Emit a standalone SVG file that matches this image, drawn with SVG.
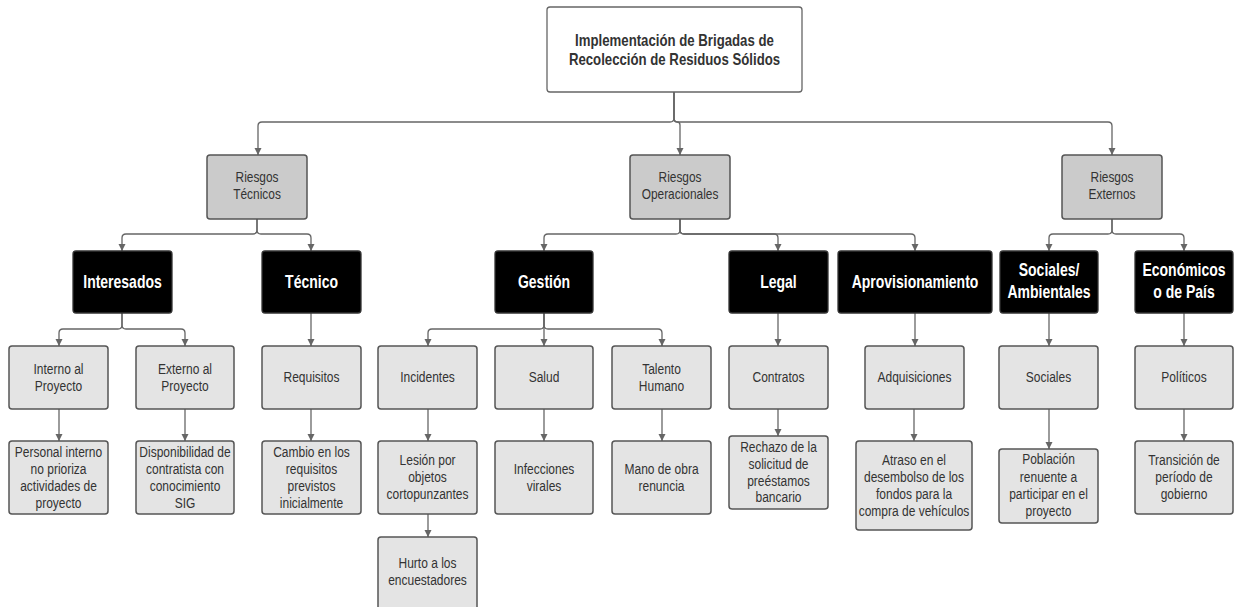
<svg xmlns="http://www.w3.org/2000/svg" width="1234" height="607" viewBox="0 0 1234 607">
  <defs>
    <marker id="arrow" markerUnits="userSpaceOnUse" markerWidth="8" markerHeight="8" refX="7" refY="3.5" orient="auto">
      <path d="M0,0 L7,3.5 L0,7 z" fill="#666"/>
    </marker>
    <style>
      .box-top { fill: #ffffff; stroke: #666; stroke-width: 1.3; }
      .box-cat { fill: #cbcbcb; stroke: #555; stroke-width: 1.5; }
      .box-area { fill: #000000; stroke: #333; stroke-width: 1.3; }
      .box-item { fill: #e4e4e4; stroke: #555; stroke-width: 1.5; }
      .edge { fill: none; stroke: #666; stroke-width: 1.3; marker-end: url(#arrow); }
      text { font-family: "Liberation Sans", Arial, sans-serif; text-anchor: middle;
             transform-box: fill-box; transform-origin: center; }
      .t-top { font-size: 16.5px; font-weight: bold; fill: #333; transform: scaleX(0.8); }
      .t-cat { font-size: 14px; fill: #333; transform: scaleX(0.85); }
      .t-area { font-size: 17.5px; font-weight: bold; fill: #fff; transform: scaleX(0.8); }
      .t-item { font-size: 15px; fill: #333; transform: scaleX(0.8); }
    </style>
  </defs>
  <rect width="1234" height="607" fill="#ffffff"/>

  <!-- connectors -->
  <g id="connectors">
    <path class="edge" d="M674,92 V118 Q674,122 670,122 H262 Q258,122 258,126 V155"/>
    <path class="edge" d="M674,92 V119 Q674,122 677,122 Q680,122 680,125 V155"/>
    <path class="edge" d="M674,92 V118 Q674,122 678,122 H1108 Q1112,122 1112,126 V155"/>

    <path class="edge" d="M257,219 V230 Q257,234 253,234 H126 Q122,234 122,238 V251"/>
    <path class="edge" d="M257,219 V230 Q257,234 261,234 H307 Q311,234 311,238 V251"/>

    <path class="edge" d="M680,219 V230 Q680,234 676,234 H548 Q544,234 544,238 V251"/>
    <path class="edge" d="M680,219 V230 Q680,234 684,234 H774 Q778,234 778,238 V251"/>
    <path class="edge" d="M680,219 V230 Q680,234 684,234 H911 Q915,234 915,238 V251"/>

    <path class="edge" d="M1112,219 V230 Q1112,234 1108,234 H1053 Q1049,234 1049,238 V251"/>
    <path class="edge" d="M1112,219 V230 Q1112,234 1116,234 H1180 Q1184,234 1184,238 V251"/>

    <path class="edge" d="M122,313 V325 Q122,329 118,329 H63 Q59,329 59,333 V346"/>
    <path class="edge" d="M122,313 V325 Q122,329 126,329 H181 Q185,329 185,333 V346"/>
    <path class="edge" d="M311,313 V346"/>
    <path class="edge" d="M544,313 V325 Q544,329 540,329 H432 Q428,329 428,333 V346"/>
    <path class="edge" d="M544,313 V346"/>
    <path class="edge" d="M544,313 V325 Q544,329 548,329 H658 Q662,329 662,333 V346"/>
    <path class="edge" d="M778,313 V346"/>
    <path class="edge" d="M915,313 V346"/>
    <path class="edge" d="M1049,313 V346"/>
    <path class="edge" d="M1184,313 V346"/>

    <path class="edge" d="M59,409 V441"/>
    <path class="edge" d="M185,409 V441"/>
    <path class="edge" d="M311,409 V441"/>
    <path class="edge" d="M428,409 V441"/>
    <path class="edge" d="M544,409 V441"/>
    <path class="edge" d="M662,409 V441"/>
    <path class="edge" d="M778,409 V436"/>
    <path class="edge" d="M914,409 V441"/>
    <path class="edge" d="M1049,409 V449"/>
    <path class="edge" d="M1184,409 V441"/>
    <path class="edge" d="M428,514 V537"/>
  </g>

  <!-- root -->
  <g id="root">
    <rect class="box-top" x="547" y="7" width="255" height="85" rx="3"/>
    <text class="t-top" x="674.5" y="46.5">Implementación de Brigadas de</text>
    <text class="t-top" x="674.5" y="65.5">Recolección de Residuos Sólidos</text>
  </g>

  <!-- risk categories -->
  <g id="riesgos-tecnicos">
    <rect class="box-cat" x="207" y="155" width="100" height="64" rx="3"/>
    <text class="t-cat" x="257" y="182">Riesgos</text>
    <text class="t-cat" x="257" y="199">Técnicos</text>
  </g>
  <g id="riesgos-operacionales">
    <rect class="box-cat" x="630" y="155" width="100" height="64" rx="3"/>
    <text class="t-cat" x="680" y="182">Riesgos</text>
    <text class="t-cat" x="680" y="199">Operacionales</text>
  </g>
  <g id="riesgos-externos">
    <rect class="box-cat" x="1062" y="155" width="100" height="64" rx="3"/>
    <text class="t-cat" x="1112" y="182">Riesgos</text>
    <text class="t-cat" x="1112" y="199">Externos</text>
  </g>

  <!-- risk areas -->
  <g id="interesados">
    <rect class="box-area" x="73" y="251" width="99" height="62" rx="3"/>
    <text class="t-area" x="122.5" y="288.5">Interesados</text>
  </g>
  <g id="tecnico">
    <rect class="box-area" x="262" y="251" width="99" height="62" rx="3"/>
    <text class="t-area" x="311.5" y="288.5">Técnico</text>
  </g>
  <g id="gestion">
    <rect class="box-area" x="495" y="251" width="98" height="62" rx="3"/>
    <text class="t-area" x="544" y="288.5">Gestión</text>
  </g>
  <g id="legal">
    <rect class="box-area" x="729" y="251" width="99" height="62" rx="3"/>
    <text class="t-area" x="778.5" y="288.5">Legal</text>
  </g>
  <g id="aprovisionamiento">
    <rect class="box-area" x="838" y="251" width="154" height="62" rx="3"/>
    <text class="t-area" x="915" y="288.5">Aprovisionamiento</text>
  </g>
  <g id="sociales-ambientales">
    <rect class="box-area" x="1000" y="251" width="98" height="62" rx="3"/>
    <text class="t-area" x="1049" y="276.5">Sociales/</text>
    <text class="t-area" x="1049" y="298.5">Ambientales</text>
  </g>
  <g id="economicos">
    <rect class="box-area" x="1135" y="251" width="98" height="62" rx="3"/>
    <text class="t-area" x="1184" y="276.5">Económicos</text>
    <text class="t-area" x="1184" y="298.5">o de País</text>
  </g>

  <!-- sub-areas -->
  <g id="interno">
    <rect class="box-item" x="9" y="346" width="99" height="63" rx="3"/>
    <text class="t-item" x="58.5" y="374">Interno al</text>
    <text class="t-item" x="58.5" y="391">Proyecto</text>
  </g>
  <g id="externo">
    <rect class="box-item" x="136" y="346" width="98" height="63" rx="3"/>
    <text class="t-item" x="185" y="374">Externo al</text>
    <text class="t-item" x="185" y="391">Proyecto</text>
  </g>
  <g id="requisitos">
    <rect class="box-item" x="262" y="346" width="99" height="63" rx="3"/>
    <text class="t-item" x="311.5" y="382">Requisitos</text>
  </g>
  <g id="incidentes">
    <rect class="box-item" x="378" y="346" width="99" height="63" rx="3"/>
    <text class="t-item" x="427.5" y="382">Incidentes</text>
  </g>
  <g id="salud">
    <rect class="box-item" x="495" y="346" width="98" height="63" rx="3"/>
    <text class="t-item" x="544" y="382">Salud</text>
  </g>
  <g id="talento">
    <rect class="box-item" x="612" y="346" width="99" height="63" rx="3"/>
    <text class="t-item" x="661.5" y="374">Talento</text>
    <text class="t-item" x="661.5" y="391">Humano</text>
  </g>
  <g id="contratos">
    <rect class="box-item" x="729" y="346" width="99" height="63" rx="3"/>
    <text class="t-item" x="778.5" y="382">Contratos</text>
  </g>
  <g id="adquisiciones">
    <rect class="box-item" x="865" y="346" width="99" height="63" rx="3"/>
    <text class="t-item" x="914.5" y="382">Adquisiciones</text>
  </g>
  <g id="sociales">
    <rect class="box-item" x="999" y="346" width="99" height="63" rx="3"/>
    <text class="t-item" x="1048.5" y="382">Sociales</text>
  </g>
  <g id="politicos">
    <rect class="box-item" x="1135" y="346" width="98" height="63" rx="3"/>
    <text class="t-item" x="1184" y="382">Políticos</text>
  </g>

  <!-- specific risks -->
  <g id="personal-interno">
    <rect class="box-item" x="9" y="441" width="99" height="73" rx="3"/>
    <text class="t-item" x="58.5" y="457">Personal interno</text>
    <text class="t-item" x="58.5" y="474">no prioriza</text>
    <text class="t-item" x="58.5" y="491">actividades de</text>
    <text class="t-item" x="58.5" y="508">proyecto</text>
  </g>
  <g id="disponibilidad">
    <rect class="box-item" x="136" y="441" width="98" height="73" rx="3"/>
    <text class="t-item" x="185" y="457">Disponibilidad de</text>
    <text class="t-item" x="185" y="474">contratista con</text>
    <text class="t-item" x="185" y="491">conocimiento</text>
    <text class="t-item" x="185" y="508">SIG</text>
  </g>
  <g id="cambio-requisitos">
    <rect class="box-item" x="262" y="441" width="99" height="73" rx="3"/>
    <text class="t-item" x="311.5" y="457">Cambio en los</text>
    <text class="t-item" x="311.5" y="474">requisitos</text>
    <text class="t-item" x="311.5" y="491">previstos</text>
    <text class="t-item" x="311.5" y="508">inicialmente</text>
  </g>
  <g id="lesion">
    <rect class="box-item" x="378" y="441" width="99" height="73" rx="3"/>
    <text class="t-item" x="427.5" y="465">Lesión por</text>
    <text class="t-item" x="427.5" y="482">objetos</text>
    <text class="t-item" x="427.5" y="499">cortopunzantes</text>
  </g>
  <g id="hurto">
    <rect class="box-item" x="378" y="537" width="99" height="75" rx="3"/>
    <text class="t-item" x="427.5" y="568">Hurto a los</text>
    <text class="t-item" x="427.5" y="585">encuestadores</text>
  </g>
  <g id="infecciones">
    <rect class="box-item" x="495" y="441" width="98" height="73" rx="3"/>
    <text class="t-item" x="544" y="474">Infecciones</text>
    <text class="t-item" x="544" y="491">virales</text>
  </g>
  <g id="mano-de-obra">
    <rect class="box-item" x="612" y="441" width="99" height="73" rx="3"/>
    <text class="t-item" x="661.5" y="474">Mano de obra</text>
    <text class="t-item" x="661.5" y="491">renuncia</text>
  </g>
  <g id="rechazo">
    <rect class="box-item" x="729" y="436" width="99" height="73" rx="3"/>
    <text class="t-item" x="778.5" y="452">Rechazo de la</text>
    <text class="t-item" x="778.5" y="469">solicitud de</text>
    <text class="t-item" x="778.5" y="486">preéstamos</text>
    <text class="t-item" x="778.5" y="502">bancario</text>
  </g>
  <g id="atraso">
    <rect class="box-item" x="856" y="441" width="116" height="89" rx="3"/>
    <text class="t-item" x="914" y="465">Atraso en el</text>
    <text class="t-item" x="914" y="482">desembolso de los</text>
    <text class="t-item" x="914" y="499">fondos para la</text>
    <text class="t-item" x="914" y="516">compra de vehículos</text>
  </g>
  <g id="poblacion">
    <rect class="box-item" x="999" y="449" width="99" height="74" rx="3"/>
    <text class="t-item" x="1048.5" y="464">Población</text>
    <text class="t-item" x="1048.5" y="482">renuente a</text>
    <text class="t-item" x="1048.5" y="499">participar en el</text>
    <text class="t-item" x="1048.5" y="516">proyecto</text>
  </g>
  <g id="transicion">
    <rect class="box-item" x="1135" y="441" width="98" height="73" rx="3"/>
    <text class="t-item" x="1184" y="465">Transición de</text>
    <text class="t-item" x="1184" y="482">período de</text>
    <text class="t-item" x="1184" y="499">gobierno</text>
  </g>
</svg>
